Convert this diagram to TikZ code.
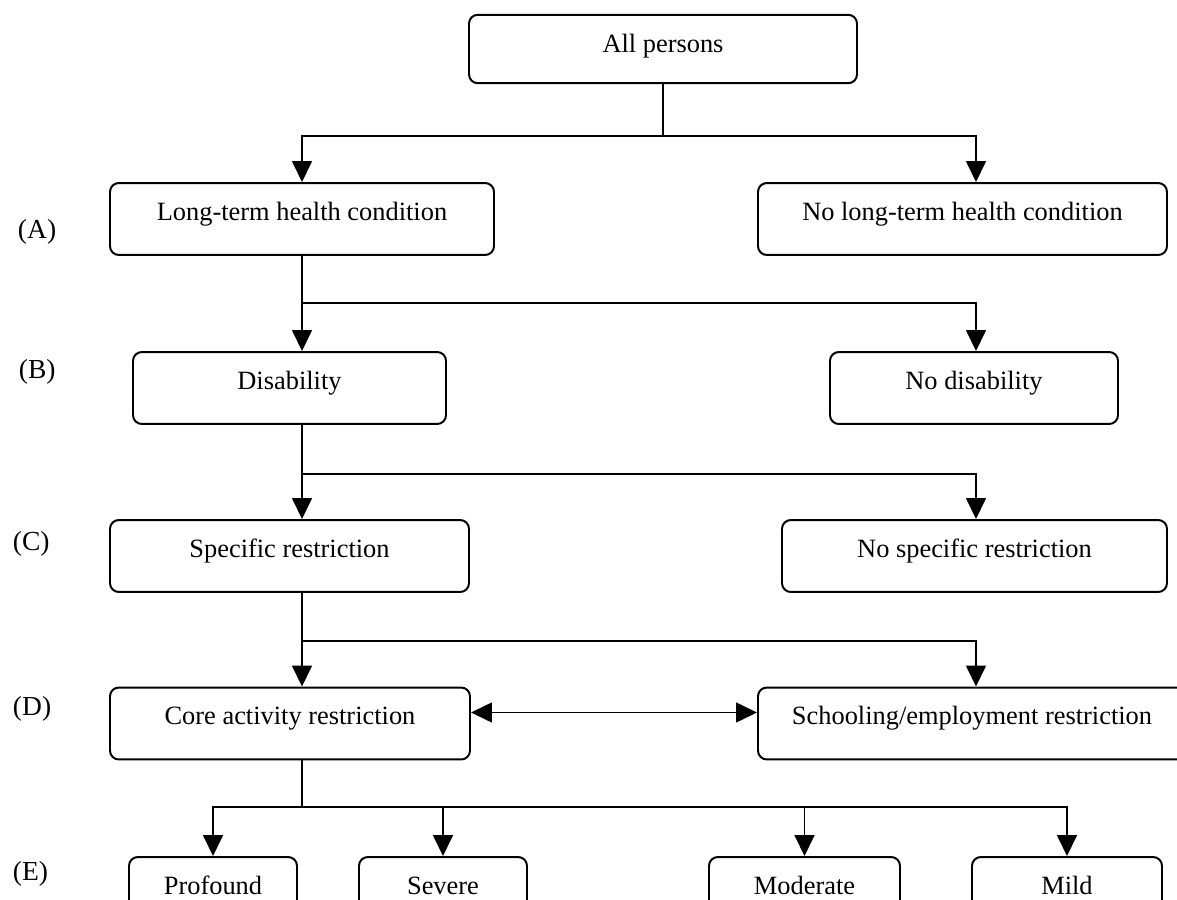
\documentclass[tikz,border=0pt]{standalone}
\usepackage{fontspec}
\setmainfont{Liberation Serif}
\usetikzlibrary{arrows.meta}
\newcommand{\pxu}{0.4545pt}

\begin{document}
\begin{tikzpicture}[x=\pxu,y=-\pxu,line width=0.9pt,>={Triangle[length=9.5pt,width=9pt]},
		box/.style={draw,rounded corners=4pt,inner sep=0pt,text height=17pt,text depth=15.7pt,font=\fontsize{12}{14}\selectfont},
		lbl/.style={anchor=base west,inner sep=0pt,font=\fontsize{12.5}{14}\selectfont}]
			\useasboundingbox (0,0) rectangle (1177,900);
			\coordinate (lt) at (302,0);
			\coordinate (rt) at (976,0);
			\node[box,minimum width=388*\pxu,text depth=14.1pt] (all) at (663,49) {All persons};
			\node[box,minimum width=384*\pxu] (ltc) at (302,219) {Long-term health condition};
			\node[box,minimum width=409*\pxu] (noltc) at (962.5,219) {No long-term health condition};
			\node[box,minimum width=313*\pxu] (dis) at (289.5,388) {Disability};
			\node[box,minimum width=288*\pxu] (nodis) at (974,388) {No disability};
			\node[box,minimum width=359*\pxu] (spec) at (289.5,556) {Specific restriction};
			\node[box,minimum width=385*\pxu] (nospec) at (974.5,556) {No specific restriction};
			\node[box,minimum width=360*\pxu] (core) at (290,723.5) {Core activity restriction};
			\node[box,minimum width=428*\pxu] (school) at (972,723.5) {Schooling/employment restriction};
			\node[box,minimum width=168*\pxu] (prof) at (213,893) {Profound};
			\node[box,minimum width=168*\pxu] (sev) at (443,893) {Severe};
			\node[box,minimum width=191*\pxu] (mod) at (804.5,893) {Moderate};
			\node[box,minimum width=190*\pxu] (mild) at (1067,893) {Mild};
			\node[lbl] (lA) at (17,238) {(A)};
			\node[lbl] (lB) at (18,378) {(B)};
			\node[lbl] (lC) at (12,550) {(C)};
			\node[lbl] (lD) at (12,715) {(D)};
			\node[lbl] (lE) at (12,880) {(E)};
			\draw[->] (all.south) -- ++(0,52) -| (ltc.north);
			\draw[->] (all.south) -- ++(0,52) -| (noltc.north -| rt);
			\draw[->] (ltc.south) -- ++(0,47) -| (dis.north -| lt);
			\draw[->] (ltc.south) -- ++(0,47) -| (nodis.north -| rt);
			\draw[->] (dis.south -| lt) -- ++(0,49) -| (spec.north -| lt);
			\draw[->] (dis.south -| lt) -- ++(0,49) -| (nospec.north -| rt);
			\draw[->] (spec.south -| lt) -- ++(0,48) -| (core.north -| lt);
			\draw[->] (spec.south -| lt) -- ++(0,48) -| (school.north -| rt);
			\draw[<->] ([yshift=5pt]core.east) -- ([yshift=5pt]school.west);
			\foreach \n in {prof,sev,mod,mild}
				\draw[->] (core.south -| lt) -- ++(0,47) -| (\n.north);
		\end{tikzpicture}
\end{document}
